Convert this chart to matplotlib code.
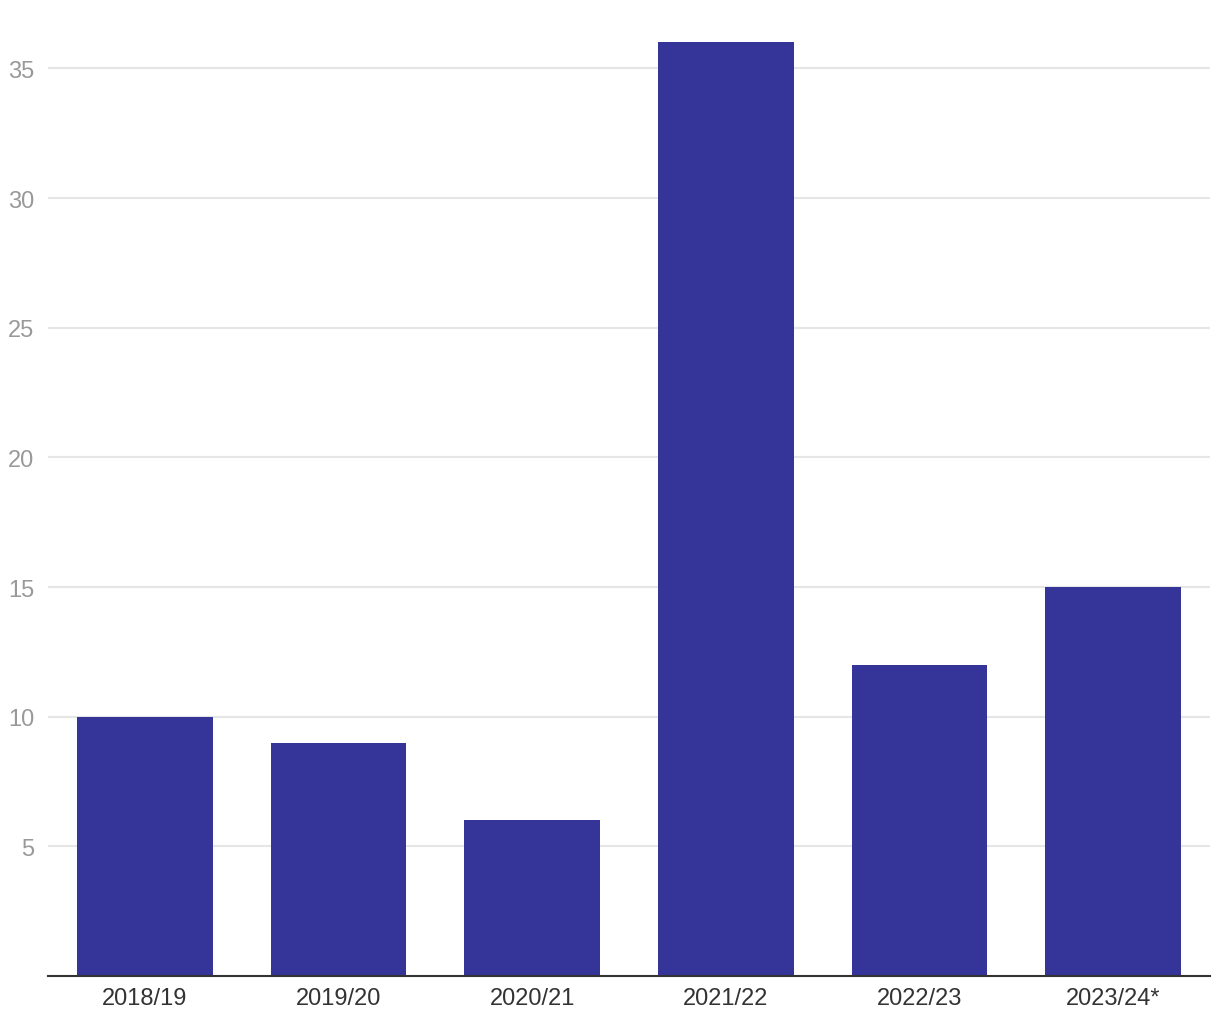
import matplotlib.pyplot as plt

seasons = ["2018/19", "2019/20", "2020/21", "2021/22", "2022/23", "2023/24*"]
values = [10, 9, 6, 36, 12, 15]
yticks = [5, 10, 15, 20, 25, 30, 35]

plt.rcParams['font.family'] = ['Liberation Sans', 'DejaVu Sans']

fig = plt.figure(figsize=(12.2, 10.2), dpi=100)
ax = fig.add_axes([48 / 1220, 43 / 1020, 1162 / 1220, (1020 - 43 - 2) / 1020])

x = range(len(seasons))
ax.bar(x, values, width=0.70, color="#353499", zorder=3)

ax.set_xlim(-0.5, len(seasons) - 0.5)
ax.set_ylim(0, 37.6)
ax.set_yticks(yticks)
ax.set_xticks(list(x))
ax.set_xticklabels(seasons)

ax.grid(axis="y", color="#e6e6e6", linewidth=1.5, zorder=0)
for s in ["top", "right", "left"]:
    ax.spines[s].set_visible(False)
ax.spines["bottom"].set_color("#333333")
ax.spines["bottom"].set_linewidth(1.5)
ax.spines["bottom"].set_zorder(4)

ax.tick_params(axis="y", length=0, labelsize=17, labelcolor="#999999", pad=10)
ax.tick_params(axis="x", length=0, labelsize=17, labelcolor="#333333", pad=8)

fig.savefig("out.png", dpi=100)
